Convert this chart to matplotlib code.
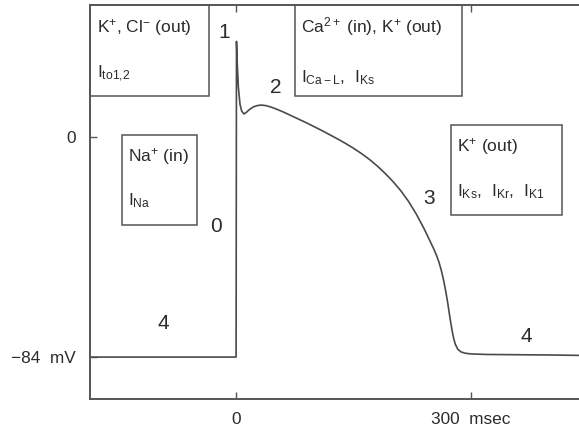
import matplotlib
matplotlib.use("Agg")
import matplotlib.pyplot as plt
import matplotlib.patches as mp

plt.rcParams.update({
    "font.family": ["Liberation Sans", "DejaVu Sans"],
    "mathtext.fontset": "custom",
    "mathtext.rm": "Liberation Sans",
    "mathtext.it": "Liberation Sans:italic",
    "mathtext.bf": "Liberation Sans:bold",
})

INK = "#2b2b2b"
LINE = "#555555"

# ventricular action potential, time in ms, membrane potential in mV
t_ms = [-186.5, 0.0, 0.5, 1.5, 2.9, 5.0, 7.0, 10.0, 13.0, 17.0, 22.0, 27.0,
        32.0, 38.0, 45.0, 52.0, 60.0, 70.0, 80.0, 90.0, 100.0, 110.0, 120.0,
        130.0, 140.0, 150.0, 160.0, 170.0, 180.0, 190.0, 200.0, 210.0, 220.0,
        230.0, 240.0, 248.0, 252.0, 256.0, 259.0, 262.0, 265.0, 268.0, 270.0,
        272.0, 274.0, 276.0, 278.0, 280.0, 283.0, 287.0, 292.0, 300.0, 320.0,
        360.0, 400.0, 450.0]
v_mv = [-84.0, -84.0, 36.5, 28.0, 19.0, 12.5, 10.0, 8.8, 9.4, 10.5, 11.5, 12.0,
        12.2, 12.0, 11.4, 10.6, 9.6, 8.2, 6.8, 5.4, 3.9, 2.4, 0.8,
        -0.8, -2.5, -4.3, -6.3, -8.5, -11.0, -13.8, -16.9, -20.4, -24.5,
        -29.4, -35.0, -40.0, -42.5, -45.3, -47.8, -50.9, -54.8, -59.5, -63.0,
        -67.0, -70.8, -74.3, -77.2, -79.2, -81.0, -82.0, -82.5, -82.8, -83.0,
        -83.1, -83.2, -83.4]

# phase numbers: label, time, potential
phase_labels = ["1", "2", "0", "3", "4", "4"]
phase_t = [-15.3, 51.0, -26.0, 246.4, -93.0, 370.0]
phase_v = [40.0, 19.0, -34.0, -23.3, -71.0, -76.0]

# ion / current boxes: (t0, t1, v0, v1)
box_spans = [(-186.5, -34.5, 15.7, 50.4),
             (75.3, 288.5, 15.7, 50.4),
             (-146.0, -49.8, -33.6, 0.8),
             (274.5, 416.0, -29.8, 4.6)]
box_ions = [r"$\mathrm{K}^{+}$, $\mathrm{Cl}^{-}$ (out)",
            r"$\mathrm{Ca}^{2+}$ (in), $\mathrm{K}^{+}$ (out)",
            r"$\mathrm{Na}^{+}$ (in)",
            r"$\mathrm{K}^{+}$ (out)"]
box_currents = [r"$\mathrm{I}_{\mathrm{to1{,}2}}$",
                r"$\mathrm{I}_{\mathrm{Ca-L}}$,  $\mathrm{I}_{\mathrm{Ks}}$",
                r"$\mathrm{I}_{\mathrm{Na}}$",
                r"$\mathrm{I}_{\mathrm{Ks}}$,  $\mathrm{I}_{\mathrm{Kr}}$,  $\mathrm{I}_{\mathrm{K1}}$"]
box_text_t = [-177.8, 82.6, -138.0, 281.7]
box_ion_v = [40.0, 40.0, -9.2, -5.6]
box_cur_v = [22.5, 21.0, -26.0, -22.8]

xticks = [0, 300]
xticklabels = ["0", "300  msec"]
yticks = [0, -84]
yticklabels = ["0", "\u221284  mV"]

W, H = 579, 426
fig = plt.figure(figsize=(W / 100, H / 100), dpi=100)
# axes run past the right edge of the figure
ax = fig.add_axes([90 / W, 27 / H, 498.6 / W, 394 / H])
ax.set_xlim(-186.5, 450)
ax.set_ylim(-100, 50.4)

ax.plot(t_ms, v_mv, color="#4a4a4a", lw=1.2, solid_joinstyle="round")

for (t0, t1, v0, v1) in box_spans:
    ax.add_patch(mp.Rectangle((t0, v0), t1 - t0, v1 - v0, fill=False,
                              ec=LINE, lw=1.1, clip_on=False))
for x, vi, vc, ion, cur in zip(box_text_t, box_ion_v, box_cur_v, box_ions, box_currents):
    ax.text(x, vi, ion, fontsize=12.5, color=INK, ha="left", va="baseline")
    ax.text(x, vc, cur, fontsize=12.5, color=INK, ha="left", va="baseline")

for lab, x, v in zip(phase_labels, phase_t, phase_v):
    ax.text(x, v, lab, fontsize=15, color=INK, ha="center", va="center")

for s in ax.spines.values():
    s.set_color(LINE)
    s.set_linewidth(1.4)
ax.set_xticks(xticks, xticklabels)
ax.set_yticks(yticks, yticklabels)
ax.tick_params(axis="both", direction="in", length=5, width=1.0, color=LINE,
               labelsize=12.4, labelcolor=INK, top=True, right=True)
ax.tick_params(axis="x", pad=9)
ax.tick_params(axis="y", pad=10)

fig.savefig("out.png", dpi=100, facecolor="white")
